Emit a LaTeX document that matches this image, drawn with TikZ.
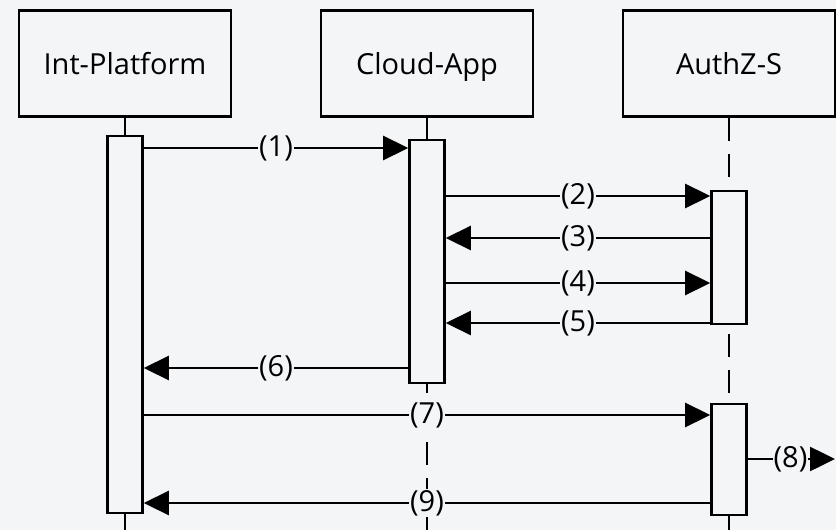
\documentclass[tikz,border=0pt]{standalone}
\usepackage{fontspec}
\setmainfont{Open Sans}
\usetikzlibrary{arrows.meta}
\definecolor{bg}{RGB}{244,245,247}
\tikzset{
  actor/.style={draw, line width=2.6pt, fill=bg, minimum width=212pt, minimum height=106pt, inner sep=0pt, text height=21pt, text depth=0pt, font=\fontsize{29}{34}\selectfont},
  actbar/.style={draw, line width=2.6pt, fill=bg, minimum width=35pt, inner sep=0pt},
  life/.style={line width=2.6pt},
  dline/.style={line width=2.6pt, dash pattern=on 23pt off 13pt},
  msg/.style={line width=2.6pt, -{Triangle[length=25pt,width=24pt]}},
  lbl/.style={fill=bg, inner sep=1pt, font=\fontsize{29}{34}\selectfont}
}
\begin{document}
\begin{tikzpicture}[x=1pt,y=-1pt]
\useasboundingbox[fill=bg] (0,0) rectangle (836,530);
% actors
\node[actor] (ip) at (125,63.5) {Int-Platform};
\node[actor] (ca) at (427,63.5) {Cloud-App};
\node[actor] (az) at (729,63.5) {AuthZ-S};
% bottom coordinates
\coordinate (bot) at (0,532);
% dashed lifelines
\draw[dline] (ip.south) -- (ip.south |- bot);
\draw[dline] (ca.south) -- (ca.south |- bot);
\draw[dline] (az.south) -- (az.south |- bot);
% activation bars
\node[actbar, minimum height=377pt] (ipa) at (125,324.5) {};
\node[actbar, minimum height=243pt] (caa) at (427,261.5) {};
\node[actbar, minimum height=133pt] (aza) at (729,257.5) {};
\node[actbar, minimum height=111pt] (azb) at (729,459.5) {};
\draw[life] (ip.south) -- (ipa.north);
\draw[life] (ca.south) -- (caa.north);
% message heights
\coordinate (y1) at (0,148);
\coordinate (y2) at (0,196);
\coordinate (y3) at (0,238);
\coordinate (y4) at (0,283);
\coordinate (y5) at (0,323);
\coordinate (y6) at (0,368);
\coordinate (y7) at (0,415);
\coordinate (y8) at (0,459);
\coordinate (y9) at (0,503);
\coordinate (out8) at (835,459);
% messages
\draw[msg] (ipa.east |- y1) -- node[lbl] {(1)} (caa.west |- y1);
\draw[msg] (caa.east |- y2) -- node[lbl] {(2)} (aza.west |- y2);
\draw[msg] (aza.west |- y3) -- node[lbl] {(3)} (caa.east |- y3);
\draw[msg] (caa.east |- y4) -- node[lbl] {(4)} (aza.west |- y4);
\draw[msg] (aza.west |- y5) -- node[lbl] {(5)} (caa.east |- y5);
\draw[msg] (caa.west |- y6) -- node[lbl] {(6)} (ipa.east |- y6);
\draw[msg] (ipa.east |- y7) -- node[lbl] {(7)} (azb.west |- y7);
\draw[msg] (azb.east |- y8) -- node[lbl, pos=0.49] {(8)} (out8);
\draw[msg] (azb.west |- y9) -- node[lbl] {(9)} (ipa.east |- y9);
\end{tikzpicture}
\end{document}
